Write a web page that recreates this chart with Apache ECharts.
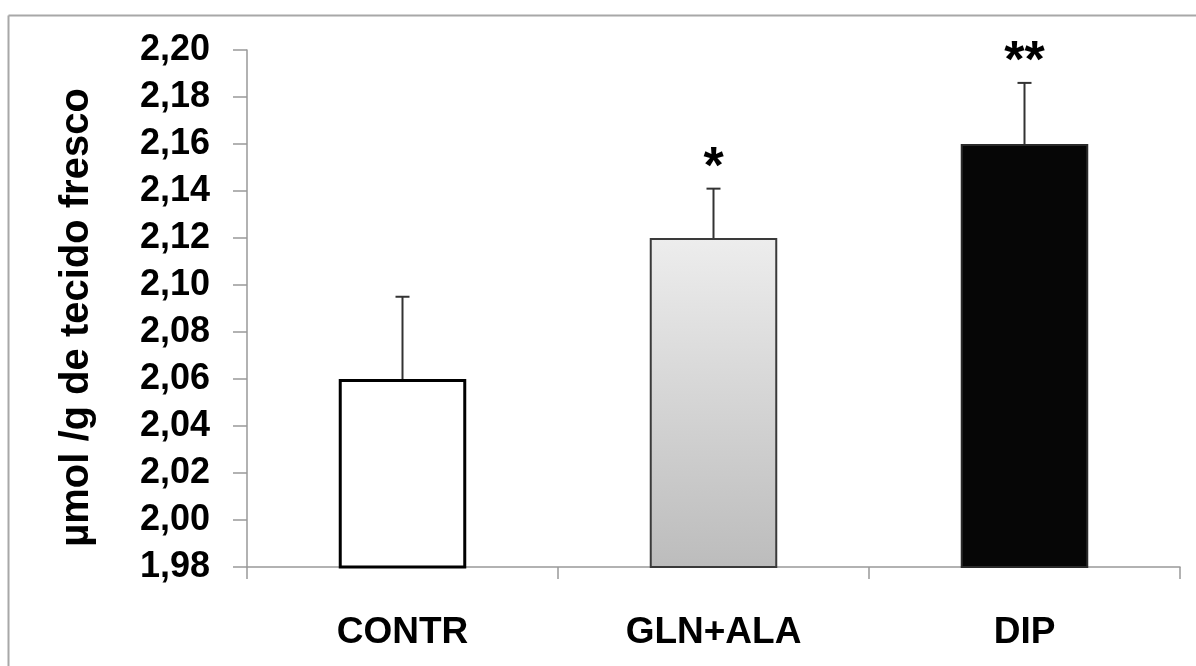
<!DOCTYPE html>
<html>
<head>
<meta charset="utf-8">
<script src="https://cdn.jsdelivr.net/npm/echarts@6/dist/echarts.min.js"></script>
<style>
html,body{margin:0;padding:0;background:#fff;}
#chart{width:1196px;height:666px;}
</style>
</head>
<body>
<div id="chart"></div>
<script>
const categories = ['CONTR', 'GLN+ALA', 'DIP'];
const means = [2.06, 2.12, 2.16];
const errors = [0.035, 0.021, 0.026];
const signif = ['', '*', '**'];
const yTicks = { min: 1.98, max: 2.20, interval: 0.02 };

const FONT = '"Liberation Sans", Arial, sans-serif';

const barStyles = [
  { color: '#ffffff', borderColor: '#000000', borderWidth: 3 },
  { color: { type: 'linear', x: 0, y: 0, x2: 0, y2: 1,
      colorStops: [{ offset: 0, color: '#ededed' }, { offset: 1, color: '#bcbcbc' }] },
    borderColor: '#3a3a3a', borderWidth: 2 },
  { color: '#060606', borderColor: '#2a2a2a', borderWidth: 2 }
];

const chart = echarts.init(document.getElementById('chart'));
chart.setOption({
  animation: false,
  backgroundColor: '#ffffff',
  grid: { left: 247, right: 16, top: 50, bottom: 99 },
  graphic: [
    { type: 'line', shape: { x1: 8.5, y1: 15.5, x2: 1196, y2: 15.5 },
      style: { stroke: '#a8a8a8', lineWidth: 2 } },
    { type: 'line', shape: { x1: 8.5, y1: 15.5, x2: 8.5, y2: 666 },
      style: { stroke: '#a8a8a8', lineWidth: 2 } }
  ],
  xAxis: {
    type: 'category',
    data: categories,
    boundaryGap: true,
    axisLine: { lineStyle: { color: '#999999', width: 1.5 } },
    axisTick: { show: true, length: 12, lineStyle: { color: '#999999', width: 1.5 } },
    axisLabel: { color: '#000', fontFamily: FONT, fontWeight: 'bold', fontSize: 37, margin: 47 }
  },
  yAxis: {
    type: 'value',
    min: yTicks.min, max: yTicks.max, interval: yTicks.interval,
    name: 'µmol /g de tecido fresco',
    nameLocation: 'middle',
    nameRotate: 90,
    nameGap: 150,
    nameTextStyle: { color: '#000', fontFamily: FONT, fontWeight: 'bold', fontSize: 40, padding: [0, 0, 0, -18] },
    axisLine: { show: true, lineStyle: { color: '#999999', width: 1.5 } },
    axisTick: { show: true, length: 14, lineStyle: { color: '#999999', width: 1.5 } },
    splitLine: { show: false },
    axisLabel: {
      color: '#000', fontFamily: FONT, fontWeight: 'bold', fontSize: 36, margin: 37,
      formatter: v => v.toFixed(2).replace('.', ',')
    }
  },
  series: [
    {
      type: 'bar',
      barWidth: '41%',
      data: means.map((v, i) => ({ value: v, itemStyle: barStyles[i] })),
      z: 2
    },
    {
      type: 'custom',
      z: 3,
      data: means.map((v, i) => [i, v, v + errors[i], signif[i]]),
      renderItem: function (params, api) {
        const x = api.value(0);
        const base = api.coord([x, api.value(1)]);
        const top = api.coord([x, api.value(2)]);
        const capHalf = 7;
        const label = signif[params.dataIndex];
        return {
          type: 'group',
          children: [
            { type: 'line', shape: { x1: base[0], y1: base[1], x2: top[0], y2: top[1] },
              style: { stroke: '#333333', lineWidth: 2 } },
            { type: 'line', shape: { x1: top[0] - capHalf, y1: top[1], x2: top[0] + capHalf, y2: top[1] },
              style: { stroke: '#333333', lineWidth: 2 } },
            { type: 'text', x: top[0], y: top[1] + 6,
              style: { text: label, fill: '#000', font: 'bold 52px ' + FONT,
                       align: 'center', verticalAlign: 'bottom' } }
          ]
        };
      }
    }
  ]
});
</script>
</body>
</html>
